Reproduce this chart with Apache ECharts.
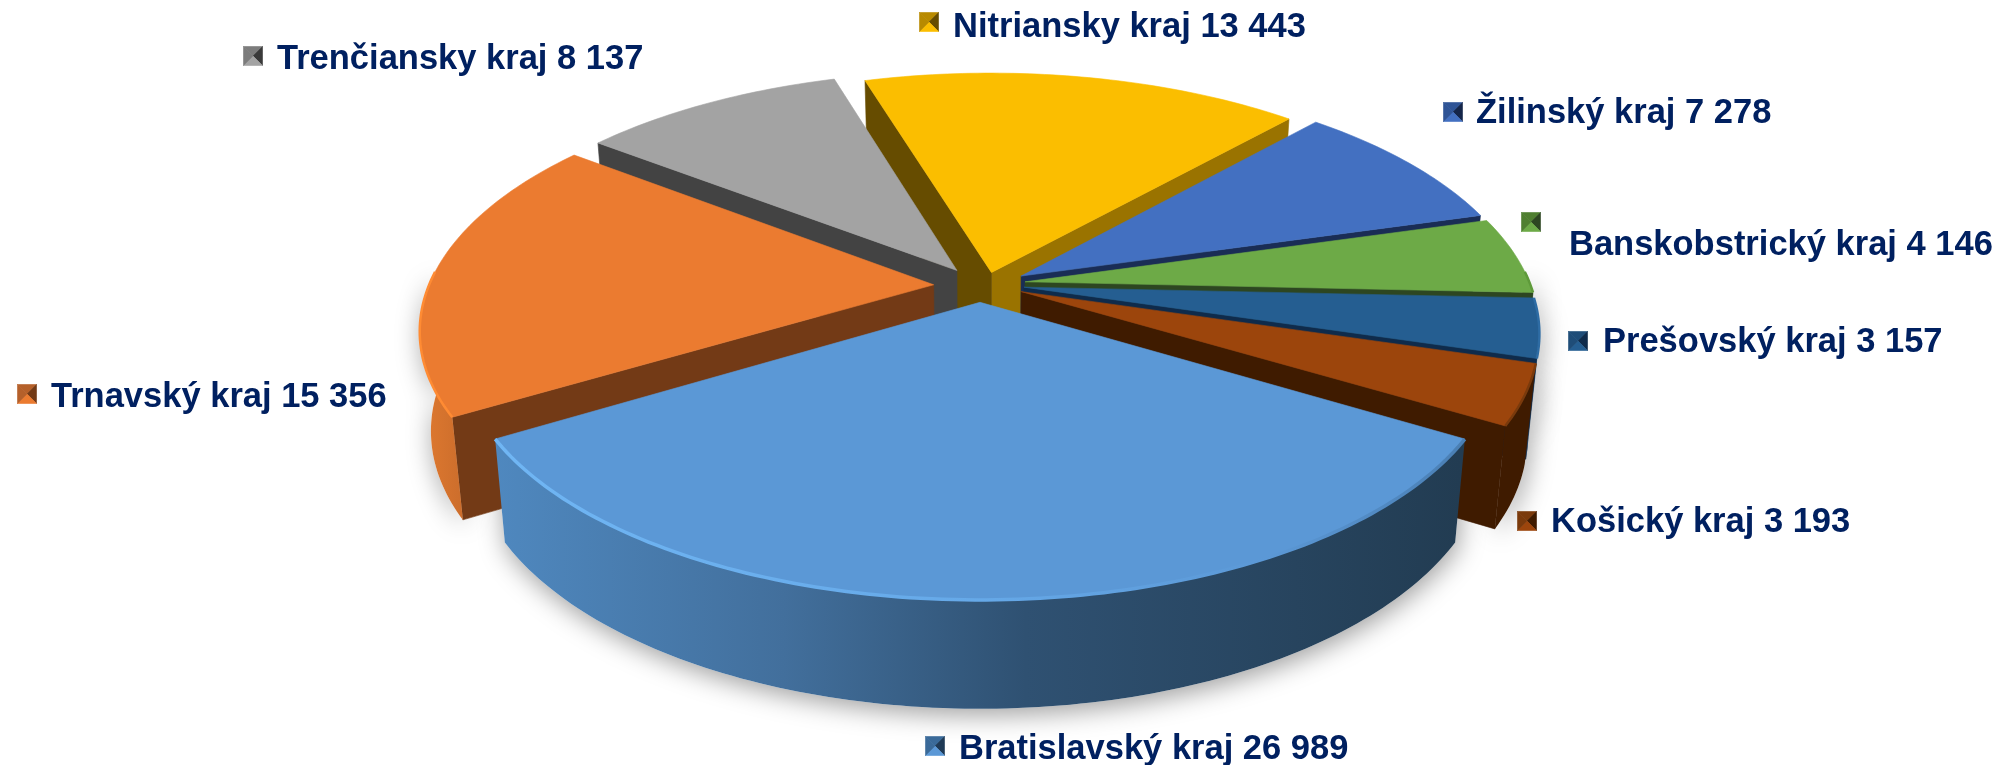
<!DOCTYPE html>
<html><head><meta charset="utf-8">
<style>html,body{margin:0;padding:0;background:#fff}#c{width:2010px;height:765px}</style>
<script src="https://cdn.jsdelivr.net/npm/echarts@6/dist/echarts.min.js"></script>
</head><body><div id="c"></div>
<script>
const regions = ['Bratislavský kraj','Košický kraj','Prešovský kraj','Banskobstrický kraj','Žilinský kraj','Nitriansky kraj','Trenčiansky kraj','Trnavský kraj'];
const valueLabels = ['26 989','3 193','3 157','4 146','7 278','13 443','8 137','15 356'];
const values = [26989,3193,3157,4146,7278,13443,8137,15356];

const topColors = ['#5B98D6','#9C450C','#255E91','#6DAA47','#4370C1','#FBBE00','#A3A3A3','#EB7B30'];
const wallColors = ['#2F5375','#3F1B00','#0F2B4B','#2D4621','#1A2D55','#9A7300','#434343','#C96C2B'];
const cutColors = ['#2F5375','#3F1B00','#0F2B4B','#2D4621','#1A2D55','#664C00','#434343','#733A16'];
const edgeColors = ['#70B6F4','#7A3A0C','#2E6CA4','#5E9A3A','#3A62AA','#FBBE00','#A3A3A3','#FF8B33'];
const iconDark = ['#1F3A56','#3F1B00','#0F2B4B','#2D4621','#15264A','#664C00','#3A3A3A','#733A16'];
const iconMid = ['#3A6A99','#7A3A0C','#1F4D78','#4F7F30','#2F5496','#B88A00','#7C7C7C','#B5602A'];

const labelAnchors = [[935,746,959],[1527,521,1551],[1578,341,1603],[1531,222,1569],[1453,112,1476],[929,22,953],[253,56,277],[27,394,51]];
const labelShift = [3,1,1,23,1,5,3,3];
const explodes = [0.08,0.08,0.08,0.08,0.08,0.05,0.07,0.09];
const nudgeX = [1,5,5,6,8,7,-2,0];
const nudgeY = [-1,0,0,0,2,0,0,2];

const PIE = {cx:979, cy:284, rx:505, ry:238, k:0.175, depth:98, taper:0.98};
const total = values.reduce((a,b)=>a+b,0);
const starts = []; { let acc = -values[0]/total*180; values.forEach(v=>{starts.push(acc); acc += v/total*360;}); }

function project(X,Y,drop,i){
  const w = 1/(1-PIE.k*Y);
  return [PIE.cx+nudgeX[i]+PIE.rx*X*w*(drop?PIE.taper:1), PIE.cy+nudgeY[i]+PIE.ry*Y*w+(drop?PIE.depth*Math.sqrt(w):0)];
}
function rad(d){return d*Math.PI/180;}
function polygon(points,fill,z2,extra){
  return {type:'polygon',silent:true,z2:z2,shape:{points:points},style:Object.assign({fill:fill,stroke:fill,lineWidth:0.6},extra||{})};
}
const order = values.map((v,i)=>i).sort((p,q)=>{
  const m=i=>starts[i]+values[i]/total*180; return Math.cos(rad(m(p)))-Math.cos(rad(m(q)));
});

function renderItem(params,api){
  const i = params.dataIndex;
  const v = api.value(0);
  const a1 = starts[i], a2 = a1+v/total*360, mid=(a1+a2)/2;
  const ex = explodes[i];
  const ox = ex*Math.sin(rad(mid)), oy = ex*Math.cos(rad(mid));
  const at=(a,drop)=>project(ox+Math.sin(rad(a)),oy+Math.cos(rad(a)),drop,i);
  const apex=project(ox,oy,false,i), apexD=project(ox,oy,true,i);
  const rank = order.indexOf(i)+1;
  const z = rank*10;
  const arc=[]; for(let a=a1;a<a2;a+=1)arc.push(a); arc.push(a2);
  const kids=[];
  const cutFace=(a,sign)=>{
    const p=at(a,false), pd=at(a,true);
    const dx=p[0]-apex[0];
    if(dx*sign>0){
      let col=cutColors[i];
      if(i===5 && sign>0) col='#9A7300';
      kids.push(polygon([apex,p,pd,apexD],col,z+1));
    }
  };
  cutFace(a1,1); cutFace(a2,-1);
  const vis=arc.filter(a=>Math.cos(rad(a))>-0.06);
  if(vis.length>1){
    const upper=vis.map(a=>at(a,false)), lower=vis.map(a=>at(a,true)).reverse();
    let fill=wallColors[i];
    if(i===0) fill=new echarts.graphic.LinearGradient(494,0,1461,0,[
      {offset:0,color:'#4F88BF'},{offset:.3,color:'#426F9C'},{offset:.55,color:'#2F5172'},{offset:1,color:'#223C52'}],true);
    if(i===7) fill=new echarts.graphic.LinearGradient(420,0,480,0,[
      {offset:0,color:'#E07A30'},{offset:1,color:'#C4682A'}],true);
    const wall=polygon(upper.concat(lower),fill,z+2);
    wall.style.stroke=null; wall.style.lineWidth=0;
    kids.push(wall);
    kids.push(polygon(upper.concat(lower),'#fff',-5,{stroke:null,lineWidth:0,shadowBlur:26,shadowOffsetY:6,shadowOffsetX:2,shadowColor:'rgba(0,0,0,0.38)'}));
    let edge=edgeColors[i];
    if(i===0) edge=new echarts.graphic.LinearGradient(494,0,1461,0,[
      {offset:0,color:'#70B6F4'},{offset:.5,color:'#66A9E8'},{offset:.8,color:'#5B98D6'},{offset:1,color:'#4A7FB4'}],true);
    kids.push({type:'polyline',silent:true,z2:z+4,shape:{points:upper},style:{fill:null,stroke:edge,lineWidth:i===0?3.5:2.5}});
  }
  const topPts=[apex].concat(arc.map(a=>at(a,false)));
  kids.push(polygon(topPts,topColors[i],z+3));

  const [mx,my,tx]=labelAnchors[i];
  const s=9.5;
  const c=[mx,my];
  const tl=[mx-s,my-s],tr=[mx+s,my-s],br=[mx+s,my+s],bl=[mx-s,my+s];
  kids.push(polygon([tl,tr,c],iconMid[i],500));
  kids.push(polygon([tr,br,c],iconDark[i],500));
  kids.push(polygon([bl,br,c],topColors[i],500));
  kids.push(polygon([tl,bl,c],iconMid[i],500));
  kids.push({type:'text',silent:true,z2:501,style:{x:tx,y:my+labelShift[i],
    text:regions[i]+' '+valueLabels[i],fill:'#002060',font:'bold 34.5px "Liberation Sans", Arial, sans-serif',
    textAlign:'left',textVerticalAlign:'middle'}});
  return {type:'group',children:kids};
}

const chart=echarts.init(document.getElementById('c'),null,{renderer:'canvas'});
chart.setOption({
  animation:false,
  backgroundColor:'#fff',
  series:[{type:'custom',coordinateSystem:'none',renderItem:renderItem,data:values.map(v=>[v]),encode:{value:0},silent:true}]
});
</script></body></html>
